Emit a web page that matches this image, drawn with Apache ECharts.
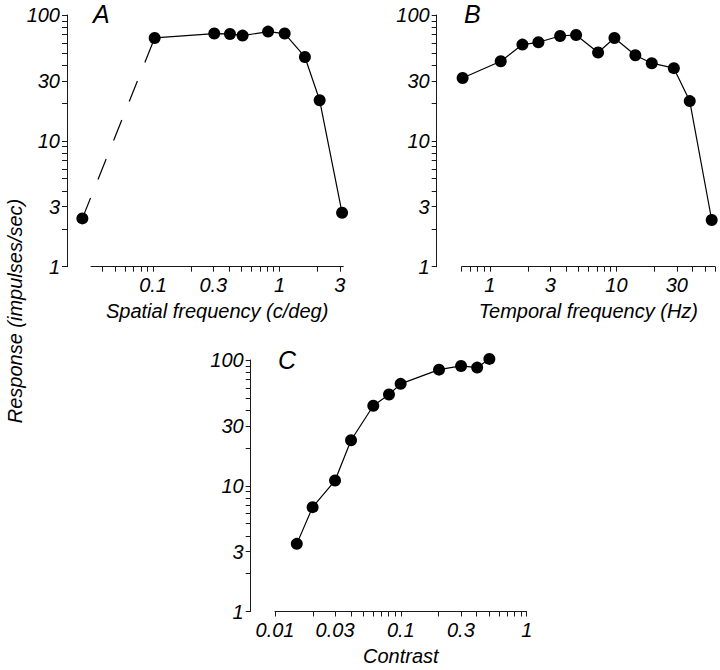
<!DOCTYPE html>
<html>
<head>
<meta charset="utf-8">
<script src="https://cdn.jsdelivr.net/npm/echarts@6/dist/echarts.min.js"></script>
<style>
html,body{margin:0;padding:0;background:#fff;}
#chart{width:720px;height:670px;}
</style>
</head>
<body>
<div id="chart"></div>
<script>
// ---- data ----
const spatialFreq = [0.0276, 0.103, 0.305, 0.406, 0.511, 0.813, 1.10, 1.59, 2.08, 3.13];
const spatialResp = [2.42, 65.7, 71.2, 70.7, 68.6, 73.8, 71.2, 46.4, 21.0, 2.68];

const temporalFreq = [0.61, 1.22, 1.81, 2.42, 3.59, 4.80, 7.16, 9.64, 14.1, 19.0, 28.4, 37.9, 56.5];
const temporalResp = [31.6, 42.9, 58.2, 60.7, 68.1, 69.4, 50.3, 65.7, 47.9, 41.4, 37.8, 20.7, 2.35];

const contrastVals = [0.0149, 0.0199, 0.030, 0.0402, 0.0604, 0.0805, 0.0996, 0.201, 0.301, 0.404, 0.505];
const contrastResp = [3.45, 6.76, 11.0, 23.0, 43.3, 53.2, 64.6, 83.8, 89.7, 87.0, 102];

// ---- ticks ----
const respTicks = [1,2,3,4,5,6,7,8,9,10,20,30,40,50,60,70,80,90,100];
const respLabels = [1,3,10,30,100];
const spatialTicks = [0.04,0.05,0.06,0.07,0.08,0.09,0.1,0.2,0.3,0.4,0.5,0.6,0.7,0.8,0.9,1,2,3];
const spatialLabels = [0.1,0.3,1,3];
const temporalTicks = [0.6,0.7,0.8,0.9,1,2,3,4,5,6,7,8,9,10,20,30,40,50,60];
const temporalLabels = [1,3,10,30];
const contrastTicks = [0.01,0.02,0.03,0.04,0.05,0.06,0.07,0.08,0.09,0.1,0.2,0.3,0.4,0.5,0.6,0.7,0.8,0.9,1];
const contrastLabels = [0.01,0.03,0.1,0.3,1];

const FONT = "'Liberation Sans', Arial, Helvetica, sans-serif";
const fmt = v => String(parseFloat(Number(v).toPrecision(6)));
const axisLineStyle = {show: true, lineStyle: {color: '#1a1a1a', width: 1}};
const labelStyle = {color: '#000', fontFamily: FONT, fontStyle: 'italic', fontSize: 20};

function xAx(grid, min, max, ticks, labels, name, gap) {
  return {
    type: 'log', logBase: 10, gridIndex: grid, min: min, max: max,
    axisLine: axisLineStyle,
    axisTick: {show: true, length: 5, inside: false, customValues: ticks, lineStyle: {color: '#1a1a1a'}},
    axisLabel: Object.assign({customValues: labels, formatter: fmt, margin: 8}, labelStyle),
    splitLine: {show: false}, minorTick: {show: false},
    name: name, nameLocation: 'middle', nameGap: gap,
    nameTextStyle: {color: '#000', fontFamily: FONT, fontStyle: 'italic', fontSize: 20}
  };
}
function yAx(grid, offset) {
  return {
    type: 'log', logBase: 10, gridIndex: grid, min: 1, max: 100, offset: offset,
    axisLine: axisLineStyle,
    axisTick: {show: true, length: 5, inside: false, customValues: respTicks, lineStyle: {color: '#1a1a1a'}},
    axisLabel: Object.assign({customValues: respLabels, formatter: fmt, margin: 7}, labelStyle),
    splitLine: {show: false}, minorTick: {show: false}
  };
}
const pairs = (xs, ys) => xs.map((x, i) => [x, ys[i]]);
const markerStyle = {color: '#000', opacity: 1};
function lineSeries(xi, yi, data) {
  return {
    type: 'line', xAxisIndex: xi, yAxisIndex: yi, data: data,
    symbol: 'circle', symbolSize: 12, showSymbol: true, clip: false,
    itemStyle: markerStyle, lineStyle: {color: '#000', width: 1.2},
    animation: false, silent: true, z: 3
  };
}

const dashedA = pairs(spatialFreq.slice(0, 2), spatialResp.slice(0, 2));

const chart = echarts.init(document.getElementById('chart'), null, {renderer: 'svg'});
chart.setOption({
  backgroundColor: '#fff',
  animation: false,
  grid: [
    {left: 91, top: 15, width: 252.3, height: 251.7},
    {left: 461.7, top: 15, width: 253.3, height: 251.7},
    {left: 275, top: 360, width: 251.7, height: 251.5}
  ],
  xAxis: [
    xAx(0, 0.0323, 3.2, spatialTicks, spatialLabels, 'Spatial frequency (c/deg)', 34),
    xAx(1, 0.6, 60, temporalTicks, temporalLabels, 'Temporal frequency (Hz)', 34),
    xAx(2, 0.01, 1, contrastTicks, contrastLabels, 'Contrast', 34)
  ],
  yAxis: [yAx(0, 24), yAx(1, 25), yAx(2, 24.3)],
  graphic: [
    {type: 'text', left: 93, top: 1, style: {text: 'A', font: 'italic 25px ' + FONT, fill: '#000'}},
    {type: 'text', left: 464, top: 1, style: {text: 'B', font: 'italic 25px ' + FONT, fill: '#000'}},
    {type: 'text', left: 278, top: 347, style: {text: 'C', font: 'italic 25px ' + FONT, fill: '#000'}},
    {type: 'text', x: 15, y: 311, rotation: Math.PI / 2,
     style: {text: 'Response (impulses/sec)', font: 'italic 20px ' + FONT, fill: '#000', align: 'center', verticalAlign: 'middle'}}
  ],
  series: [
    {
      type: 'lines', coordinateSystem: 'cartesian2d', xAxisIndex: 0, yAxisIndex: 0,
      clip: false, silent: true, animation: false, z: 2,
      lineStyle: {color: '#000', width: 1.2, type: [22, 20], opacity: 1, curveness: 0},
      data: [{coords: dashedA}]
    },
    {
      type: 'scatter', xAxisIndex: 0, yAxisIndex: 0, data: dashedA.slice(0, 1),
      symbol: 'circle', symbolSize: 12, clip: false, itemStyle: markerStyle,
      animation: false, silent: true, z: 3
    },
    lineSeries(0, 0, pairs(spatialFreq.slice(1), spatialResp.slice(1))),
    lineSeries(1, 1, pairs(temporalFreq, temporalResp)),
    lineSeries(2, 2, pairs(contrastVals, contrastResp))
  ]
});
</script>
</body>
</html>
